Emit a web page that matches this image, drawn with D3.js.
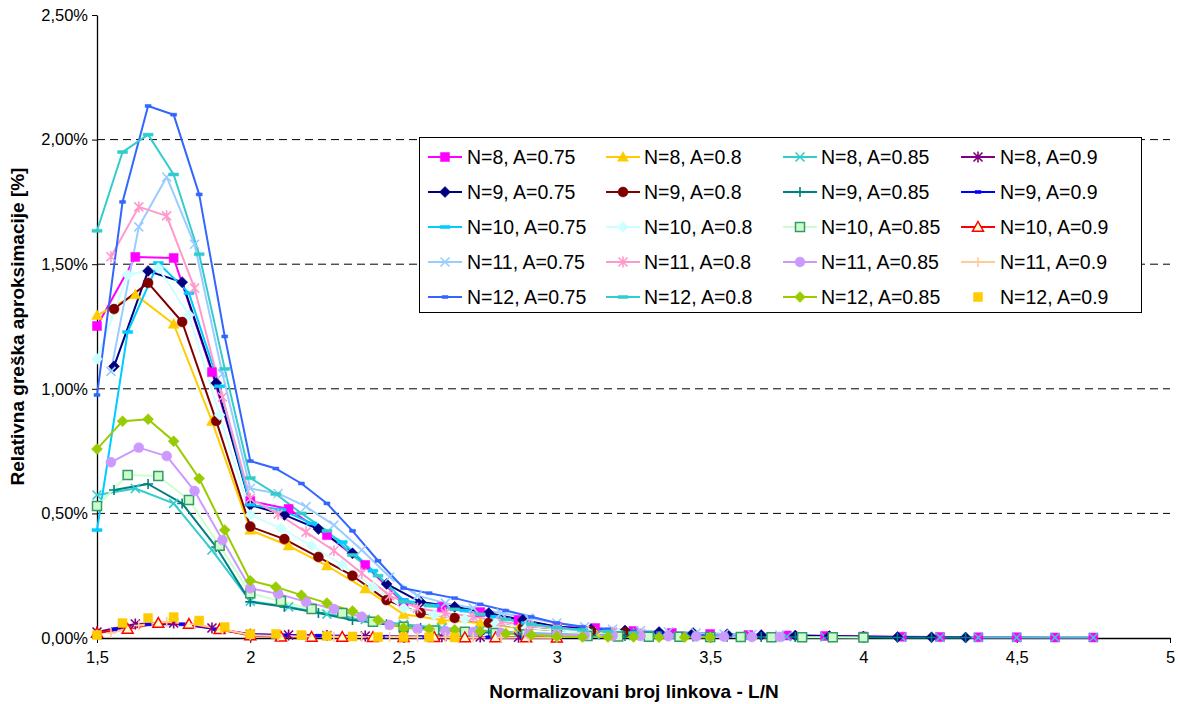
<!DOCTYPE html>
<html>
<head>
<meta charset="utf-8">
<script src="https://cdn.jsdelivr.net/npm/d3@7"></script>
<style>
  body { margin: 0; background: #fff; }
  svg { font-family: Arial, "Liberation Sans", sans-serif; }
</style>
</head>
<body>
<svg id="chart" width="1178" height="704"></svg>
<script>
// ---- data -------------------------------------------------------------
const nValues = [8, 9, 10, 11, 12];
const aValues = ["0.75", "0.8", "0.85", "0.9"];
const xTicks = [1.5, 2, 2.5, 3, 3.5, 4, 4.5, 5];
const yTicks = [0, 0.5, 1, 1.5, 2, 2.5];

// Relative approximation error in %; element i belongs to L = ceil(1.5*N) + i
const n8_a075 = [1.252, 1.529, 1.525, 1.067, 0.55, 0.518, 0.413, 0.293, 0.14, 0.125, 0.104, 0.072, 0.045, 0.04, 0.028, 0.02, 0.016, 0.012, 0.01, 0.008, 0.006, 0.005, 0.004, 0.003, 0.003, 0.002, 0.002];
const n8_a080 = [1.295, 1.378, 1.26, 0.87, 0.433, 0.37, 0.29, 0.197, 0.095, 0.072, 0.06, 0.04, 0.03, 0.022, 0.018];
const n8_a085 = [0.574, 0.60, 0.54, 0.353, 0.148, 0.125, 0.096, 0.075, 0.055, 0.04, 0.03, 0.022, 0.016, 0.012, 0.01, 0.008, 0.007, 0.006, 0.005, 0.004, 0.004, 0.003, 0.003, 0.002, 0.002, 0.002, 0.002];
const n8_a090 = [0.024, 0.056, 0.06, 0.04, 0.015, 0.012, 0.01, 0.008, 0.006, 0.005, 0.004, 0.003, 0.002];

const n9_a075 = [1.09, 1.473, 1.428, 1.023, 0.534, 0.494, 0.437, 0.34, 0.217, 0.144, 0.125, 0.10, 0.072, 0.045, 0.035, 0.03, 0.024, 0.02, 0.015, 0.012, 0.01, 0.008, 0.006, 0.004, 0.003, 0.002];
const n9_a080 = [1.32, 1.425, 1.268, 0.871, 0.447, 0.397, 0.325, 0.25, 0.152, 0.10, 0.08, 0.06, 0.042, 0.03, 0.026, 0.022];
const n9_a085 = [0.594, 0.618, 0.54, 0.365, 0.145, 0.125, 0.10, 0.072, 0.055, 0.04, 0.03, 0.022, 0.016, 0.012, 0.01, 0.008, 0.007, 0.006, 0.005, 0.004, 0.004, 0.003, 0.003, 0.002, 0.002, 0.002];
const n9_a090 = [0.035, 0.055, 0.055, 0.035, 0.014, 0.011, 0.009, 0.007, 0.005, 0.004, 0.003, 0.003, 0.002, 0.002];

const n10_a075 = [0.433, 1.228, 1.505, 1.384, 1.01, 0.535, 0.515, 0.46, 0.385, 0.27, 0.152, 0.13, 0.11, 0.085, 0.06, 0.04, 0.03, 0.024, 0.018, 0.014, 0.01, 0.007, 0.005, 0.004];
const n10_a080 = [1.12, 1.457, 1.485, 1.296, 0.895, 0.494, 0.44, 0.37, 0.293, 0.205, 0.12, 0.092, 0.075, 0.058, 0.04, 0.03, 0.024, 0.018];
const n10_a085 = [0.53, 0.654, 0.65, 0.554, 0.37, 0.18, 0.148, 0.116, 0.10, 0.065, 0.045, 0.03, 0.025, 0.02, 0.015, 0.012, 0.008, 0.006, 0.005, 0.005, 0.004, 0.004, 0.003, 0.003, 0.003, 0.002];
const n10_a090 = [0.02, 0.036, 0.06, 0.056, 0.035, 0.01, 0.005, 0.004, 0.004, 0.003, 0.003, 0.003, 0.002, 0.002, 0.002, 0.001];

const n11_a075 = [1.07, 1.65, 1.85, 1.58, 1.06, 0.60, 0.58, 0.527, 0.453, 0.353, 0.245, 0.17, 0.14, 0.12, 0.10, 0.08, 0.06, 0.045, 0.035, 0.03, 0.025, 0.02, 0.016, 0.014, 0.012];
const n11_a080 = [1.53, 1.73, 1.694, 1.404, 0.967, 0.56, 0.497, 0.425, 0.35, 0.26, 0.17, 0.12, 0.10, 0.085, 0.065, 0.05, 0.04, 0.03, 0.024, 0.018];
const n11_a085 = [0.705, 0.764, 0.73, 0.59, 0.393, 0.20, 0.177, 0.145, 0.116, 0.085, 0.052, 0.036, 0.028, 0.024, 0.02, 0.016, 0.013, 0.011, 0.009, 0.008, 0.007, 0.006, 0.005, 0.004, 0.004];
const n11_a090 = [0.02, 0.05, 0.065, 0.055, 0.035, 0.012, 0.008, 0.006, 0.005, 0.004, 0.004, 0.003, 0.003, 0.002, 0.002, 0.002, 0.001];

const n12_a075 = [0.975, 1.75, 2.135, 2.10, 1.78, 1.21, 0.71, 0.68, 0.62, 0.54, 0.43, 0.31, 0.20, 0.18, 0.16, 0.135, 0.11, 0.085, 0.06, 0.045, 0.035, 0.028, 0.02, 0.015, 0.01];
const n12_a080 = [1.634, 1.95, 2.02, 1.86, 1.54, 1.08, 0.642, 0.578, 0.50, 0.43, 0.333, 0.25, 0.145, 0.13, 0.115, 0.095, 0.075, 0.055, 0.042, 0.032, 0.026, 0.02];
const n12_a085 = [0.758, 0.87, 0.878, 0.79, 0.64, 0.433, 0.23, 0.205, 0.172, 0.14, 0.108, 0.072, 0.04, 0.036, 0.033, 0.026, 0.018, 0.012, 0.006, 0.004, 0.004, 0.004, 0.003, 0.003, 0.003];
const n12_a090 = [0.012, 0.06, 0.08, 0.084, 0.07, 0.044, 0.016, 0.016, 0.012, 0.008, 0.006, 0.004, 0.003, 0.003, 0.002];

const seriesValues = [
  n8_a075, n8_a080, n8_a085, n8_a090,
  n9_a075, n9_a080, n9_a085, n9_a090,
  n10_a075, n10_a080, n10_a085, n10_a090,
  n11_a075, n11_a080, n11_a085, n11_a090,
  n12_a075, n12_a080, n12_a085, n12_a090
];

// ---- styles (one per series, same order) -----------------------------
const seriesStyle = [
  { c: "#FF00FF", m: "square" },   { c: "#FFCC00", m: "triangle" }, { c: "#33CCCC", m: "x" },      { c: "#800080", m: "star" },
  { c: "#000080", m: "diamond" },  { c: "#800000", m: "circle" },   { c: "#008080", m: "plus" },   { c: "#0000FF", m: "dashS" },
  { c: "#00CCFF", m: "dashL" },    { c: "#CCFFFF", m: "diamond" },  { c: "#CCFFCC", m: "square", fill: "#CCFFCC", stroke: "#339966" },
  { c: "#FF0000", m: "triangle", fill: "#FFFFCC", stroke: "#FF0000" },
  { c: "#99CCFF", m: "x" },        { c: "#FF99CC", m: "star" },     { c: "#CC99FF", m: "circle" }, { c: "#FFCC99", m: "plus" },
  { c: "#3366FF", m: "dashS" },    { c: "#33CCCC", m: "dashL" },    { c: "#99CC00", m: "diamond" },{ c: "#FFCC00", m: "square", noLine: true }
];

const series = [];
nValues.forEach((n, ni) => {
  aValues.forEach((a, ai) => {
    const idx = ni * aValues.length + ai;
    const L0 = Math.ceil(1.5 * n);
    series.push({
      name: `N=${n}, A=${a}`,
      style: seriesStyle[idx],
      points: seriesValues[idx].map((v, i) => ({ x: (L0 + i) / n, y: v }))
    });
  });
});

// ---- chart ------------------------------------------------------------
const svg = d3.select("#chart");
const plot = { left: 97, right: 1170, top: 15, bottom: 638 };

const x = d3.scaleLinear().domain([1.5, 5]).range([plot.left, plot.right]);
const y = d3.scaleLinear().domain([0, 2.5]).range([plot.bottom, plot.top]);

// horizontal dashed gridlines
svg.append("g")
  .selectAll("line")
  .data(yTicks.filter(d => d > 0 && d < 2.5))
  .join("line")
  .attr("x1", plot.left).attr("x2", plot.right)
  .attr("y1", d => y(d)).attr("y2", d => y(d))
  .attr("stroke", "#000").attr("stroke-width", 1)
  .attr("stroke-dasharray", "8,5");

// axes
const yAxis = d3.axisLeft(y)
  .tickValues(yTicks)
  .tickFormat(d => d3.format(".2f")(d).replace(".", ",") + "%")
  .tickSizeInner(5).tickSizeOuter(0).tickPadding(4);
const xAxis = d3.axisBottom(x)
  .tickValues(xTicks)
  .tickFormat(d => String(d).replace(".", ","))
  .tickSizeInner(5).tickSizeOuter(0).tickPadding(8);

const gy = svg.append("g").attr("transform", `translate(${plot.left},0)`).call(yAxis);
const gx = svg.append("g").attr("transform", `translate(0,${plot.bottom})`).call(xAxis);
[gx, gy].forEach(g => {
  g.select(".domain").attr("stroke", "#000").attr("stroke-width", 1.3);
  g.selectAll(".tick line").attr("stroke", "#000");
  g.selectAll(".tick text").attr("font-size", 16.5).attr("fill", "#000")
    .attr("font-family", "Arial, 'Liberation Sans', sans-serif");
});

// axis titles
svg.append("text")
  .attr("x", 634).attr("y", 698)
  .attr("text-anchor", "middle").attr("font-weight", "bold").attr("font-size", 19)
  .text("Normalizovani broj linkova - L/N");
svg.append("text")
  .attr("transform", `translate(24,${(plot.top + plot.bottom) / 2}) rotate(-90)`)
  .attr("text-anchor", "middle").attr("font-weight", "bold").attr("font-size", 19)
  .text("Relativna greška aproksimacije [%]");

// marker shapes
function markerPath(kind) {
  switch (kind) {
    case "square":   return "M-4.5,-4.5H4.5V4.5H-4.5Z";
    case "triangle": return "M0,-5.5L5.5,4.2H-5.5Z";
    case "diamond":  return "M0,-5.5L5.5,0L0,5.5L-5.5,0Z";
    case "circle":   return d3.symbol(d3.symbolCircle, 78)();
    case "x":        return "M-4.5,-4.5L4.5,4.5M-4.5,4.5L4.5,-4.5";
    case "star":     return "M-4.5,-4.5L4.5,4.5M-4.5,4.5L4.5,-4.5M0,-5.5V5.5";
    case "plus":     return "M-5,0H5M0,-5V5";
    case "dashL":    return "M-5,-1.5H5V1.5H-5Z";
    case "dashS":    return "M-3,-1.5H3V1.5H-3Z";
  }
}
const strokeOnly = new Set(["x", "star", "plus"]);
function drawMarker(sel, st) {
  const p = sel.append("path").attr("d", markerPath(st.m));
  if (strokeOnly.has(st.m)) {
    p.attr("fill", "none").attr("stroke", st.c).attr("stroke-width", 1.6);
  } else {
    p.attr("fill", st.fill || st.c)
     .attr("stroke", st.stroke || st.c)
     .attr("stroke-width", st.stroke ? 1.5 : 0.5);
  }
  return p;
}

const line = d3.line().x(d => x(d.x)).y(d => y(d.y));

// all series lines first, markers on top
const gLines = svg.append("g");
series.forEach(s => {
  if (s.style.noLine) return;
  gLines.append("path")
    .attr("d", line(s.points))
    .attr("fill", "none")
    .attr("stroke", s.style.c)
    .attr("stroke-width", 2)
    .attr("stroke-linejoin", "round");
});
const gMarks = svg.append("g");
series.forEach(s => {
  s.points.forEach(p => {
    const g = gMarks.append("g").attr("transform", `translate(${x(p.x)},${y(p.y)})`);
    drawMarker(g, s.style);
  });
});

// legend
const legend = svg.append("g");
legend.append("rect")
  .attr("x", 419.5).attr("y", 137.5).attr("width", 722).attr("height", 175)
  .attr("fill", "#fff").attr("stroke", "#000").attr("stroke-width", 1);
const colLine = [428, 606, 783, 961];
const colText = [467, 644, 821, 1000];
const rowY = [157, 192, 227, 262, 297];
series.forEach((s, i) => {
  const col = i % 4, row = Math.floor(i / 4);
  const g = legend.append("g");
  const cy = rowY[row];
  if (!s.style.noLine) {
    g.append("line")
      .attr("x1", colLine[col]).attr("x2", colLine[col] + 34)
      .attr("y1", cy).attr("y2", cy)
      .attr("stroke", s.style.c).attr("stroke-width", 2);
  }
  const m = g.append("g").attr("transform", `translate(${colLine[col] + 17},${cy})`);
  drawMarker(m, s.style);
  g.append("text")
    .attr("x", colText[col]).attr("y", cy).attr("dy", "0.36em")
    .attr("font-size", 19.5).attr("fill", "#000")
    .text(s.name);
});
</script>
</body>
</html>
